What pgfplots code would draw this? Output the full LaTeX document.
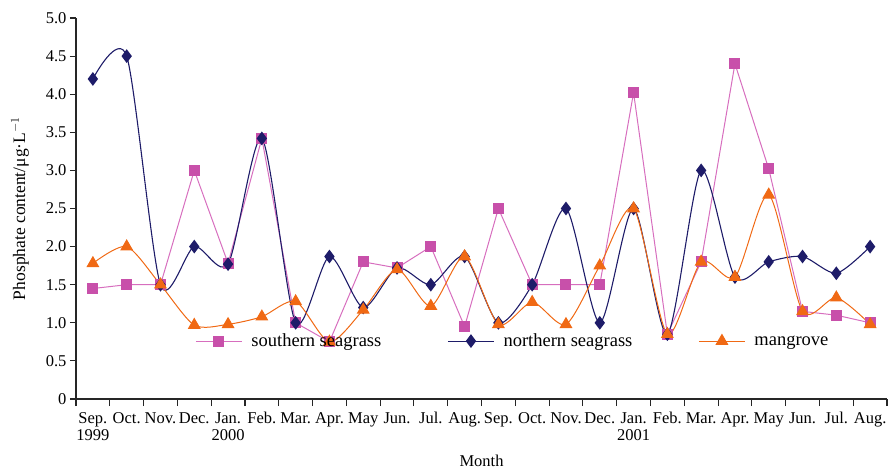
\documentclass[border=0pt]{standalone}
\usepackage{pgfplots}
\pgfplotsset{compat=1.18}
\usepackage{fontspec}
\setmainfont{Liberation Serif}
\definecolor{pinkc}{RGB}{200,80,170}
\definecolor{pinkl}{RGB}{215,110,190}
\definecolor{navyc}{RGB}{30,28,105}
\definecolor{orangec}{RGB}{240,105,20}
\definecolor{orangel}{RGB}{248,150,40}
\begin{document}
\begin{tikzpicture}
\begin{axis}[
  scale only axis, width=811pt, height=381pt,
  at={(0,0)}, anchor=south west,
  xmin=-0.5, xmax=23.5, ymin=0, ymax=5,
  axis lines=left,
  axis line style={-, line width=1.1pt, black!85},
  tick align=outside,
  tick style={line width=1.1pt, black!85},
  major tick length=6pt, minor tick length=7pt,
  xtick={0,...,23},
  major x tick style={draw=none},
  minor xtick={-0.5,0.5,...,23.5},
  xticklabels={{Sep.\\1999},Oct.,Nov.,Dec.,{Jan.\\2000},Feb.,Mar.,Apr.,May,Jun.,Jul.,Aug.,Sep.,Oct.,Nov.,Dec.,{Jan.\\2001},Feb.,Mar.,Apr.,May,Jun.,Jul.,Aug.},
  x tick label style={align=center, font=\fontsize{16.5}{17.5}\selectfont, inner xsep=0pt, anchor=north, yshift=-4pt},
  ytick={0,0.5,1,1.5,2,2.5,3,3.5,4,4.5,5},
  yticklabels={0,0.5,1.0,1.5,2.0,2.5,3.0,3.5,4.0,4.5,5.0},
  y tick label style={font=\fontsize{16.5}{16.5}\selectfont},
  xlabel={Month},
  ylabel={Phosphate content/μg·L$^{-1}$},
  xlabel style={font=\fontsize{16.5}{16.5}\selectfont, at={(axis description cs:0.5,-0.163)}, anchor=center},
  ylabel style={font=\fontsize{17.5}{17.5}\selectfont, at={(axis description cs:-0.069,0.5)}, anchor=center},
  legend columns=3,
  legend cell align=left,
  legend style={draw=none, fill=none, inner sep=0pt, at={(0.147,0.152)}, anchor=west,
    font=\fontsize{18.5}{18.5}\selectfont,
    /tikz/every even column/.append style={column sep=64pt}},
  legend image code/.code={\draw[mark repeat=2,mark phase=2,#1] plot coordinates {(0pt,0pt)(23pt,0pt)(46pt,0pt)}; \path (53pt,0pt);},
]
\addplot[pinkl, line width=1pt, mark=square*, mark size=5pt, mark options={fill=pinkc, draw=pinkc}] coordinates {
(0,1.45)(1,1.5)(2,1.5)(3,3.0)(4,1.78)(5,3.42)(6,1.0)(7,0.75)(8,1.8)(9,1.72)(10,2.0)(11,0.95)
(12,2.5)(13,1.5)(14,1.5)(15,1.5)(16,4.02)(17,0.85)(18,1.8)(19,4.4)(20,3.02)(21,1.15)(22,1.1)(23,1.0)};
\addlegendentry{southern seagrass}
\addplot[navyc, line width=1.1pt, smooth, tension=0.45, mark=diamond*, mark size=6pt, mark options={fill=navyc, draw=navyc}] coordinates {
(0,4.2)(1,4.5)(2,1.5)(3,2.0)(4,1.77)(5,3.42)(6,1.0)(7,1.87)(8,1.2)(9,1.72)(10,1.5)(11,1.87)
(12,1.0)(13,1.5)(14,2.5)(15,1.0)(16,2.5)(17,0.85)(18,3.0)(19,1.6)(20,1.8)(21,1.87)(22,1.65)(23,2.0)};
\addlegendentry{northern seagrass}
\addplot[orangec, line width=1pt, smooth, tension=0.45, mark=triangle*, mark size=6.5pt, mark options={fill=orangec, draw=orangec}] coordinates {
(0,1.78)(1,2.0)(2,1.5)(3,0.97)(4,0.98)(5,1.08)(6,1.28)(7,0.75)(8,1.17)(9,1.7)(10,1.22)(11,1.87)
(12,0.98)(13,1.27)(14,0.98)(15,1.75)(16,2.5)(17,0.85)(18,1.8)(19,1.6)(20,2.68)(21,1.15)(22,1.33)(23,0.98)};
\addlegendentry{mangrove}
\end{axis}
\pgfresetboundingbox
\useasboundingbox (-76pt,-72pt) rectangle (817pt,399pt);
\end{tikzpicture}
\end{document}
